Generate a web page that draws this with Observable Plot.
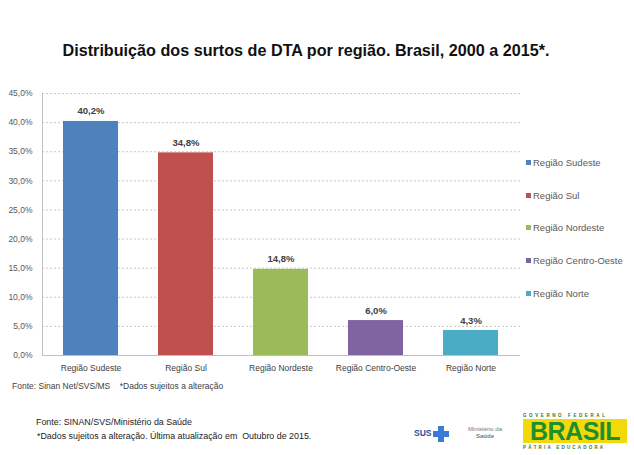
<!DOCTYPE html>
<html>
<head>
<meta charset="utf-8">
<script src="https://cdn.jsdelivr.net/npm/d3@7"></script>
<script src="https://cdn.jsdelivr.net/npm/@observablehq/plot@0.6"></script>
<style>
  html, body { margin: 0; padding: 0; background: #fff; }
  body { width: 634px; height: 455px; position: relative; overflow: hidden; font-family: "Liberation Sans", Arial, sans-serif; }
  .abs { position: absolute; white-space: nowrap; }
  #title { left: 0; width: 613px; top: 41px; text-align: center; font-family: "Liberation Sans", Arial, sans-serif; font-weight: bold; font-size: 17px; color: #111; }
  #title span { display: inline-block; transform: scaleX(0.951); }
  #chart { left: 0; top: 80px; }
  .leg { font-size: 9.5px; color: #595959; line-height: 12px; }
  .leg span.sw { display: inline-block; width: 5px; height: 5px; margin-right: 2px; vertical-align: 1px; }
  .src { font-size: 8.5px; color: #404040; }
  .foot { font-family: "Liberation Sans", Arial, sans-serif; font-size: 8.9px; color: #222; }
</style>
</head>
<body>
<div id="title" class="abs"><span>Distribuição dos surtos de DTA por região. Brasil, 2000 a 2015*.</span></div>
<div id="chart" class="abs"></div>
<div id="legend"></div>
<div class="abs src" style="left:12px; top:381px;">Fonte: Sinan Net/SVS/MS&nbsp;&nbsp;&nbsp;&nbsp;*Dados sujeitos a alteração</div>
<div class="abs foot" style="left:36px; top:417px;">Fonte: SINAN/SVS/Ministério da Saúde</div>
<div class="abs foot" style="left:37px; top:431px;">*Dados sujeitos a alteração. Última atualização em&nbsp; Outubro de 2015.</div>
<div class="abs" style="left:414px; top:428px; font-weight:bold; font-size:8.5px; color:#1f4e9c;">SUS</div>
<div class="abs" style="left:433px; top:426px; width:16px; height:16px;">
  <div style="position:absolute; left:5px; top:0; width:6px; height:16px; background:#3a7bd5;"></div>
  <div style="position:absolute; left:0; top:5px; width:16px; height:6px; background:#3a7bd5;"></div>
</div>
<div class="abs" style="left:468px; top:426px; font-size:6px; color:#777; text-align:center; line-height:7px;">Ministério da<br><b>Saúde</b></div>
<div class="abs" style="left:523px; top:413px; width:104px; font-size:4.5px; letter-spacing:2.6px; color:#2b7a2b; font-weight:bold;">GOVERNO FEDERAL</div>
<div class="abs" style="left:523px; top:419px; width:104px; height:24px; background:#f4d90a;">
  <div style="font-family:'Liberation Sans',sans-serif; font-weight:900; font-size:25px; color:#1e8f2e; line-height:24px; letter-spacing:-0.5px; text-align:center;">BRASIL</div>
</div>
<div class="abs" style="left:523px; top:445px; width:104px; font-size:4.5px; letter-spacing:2.2px; color:#2b7a2b; font-weight:bold;">PÁTRIA EDUCADORA</div>
<script>
const categories = ["Região Sudeste", "Região Sul", "Região Nordeste", "Região Centro-Oeste", "Região Norte"];
const values = [0.402, 0.348, 0.148, 0.060, 0.043];
const colors = ["#4F81BD", "#C0504D", "#9BBB59", "#8064A2", "#4BACC6"];
const yTicks = [0, 0.05, 0.10, 0.15, 0.20, 0.25, 0.30, 0.35, 0.40, 0.45];

const data = categories.map((c, i) => ({category: c, value: values[i], color: colors[i]}));
const pct = (d, digits) => (d * 100).toFixed(digits).replace(".", ",") + "%";

const chart = Plot.plot({
  width: 634,
  height: 300,
  marginTop: 13,
  marginBottom: 25,
  marginLeft: 42,
  marginRight: 114,
  style: {fontFamily: "'Liberation Sans', Arial, sans-serif", background: "transparent", color: "#404040"},
  x: {domain: categories, paddingInner: 0.42, paddingOuter: 0.21, label: null},
  y: {domain: [0, 0.45], label: null},
  marks: [
    Plot.ruleY(yTicks.slice(1), {stroke: "#c8c8c8", strokeDasharray: "2,2", strokeWidth: 1}),
    Plot.barY(data, {x: "category", y: "value", fill: "color"}),
    Plot.ruleY([0], {stroke: "#bfbfbf", strokeWidth: 1}),
    Plot.text(data, {x: "category", y: "value", text: d => pct(d.value, 1), dy: -10, fontWeight: "bold", fontSize: 9.5, fill: "#404040"}),
    Plot.axisY({ticks: yTicks, tickFormat: d => pct(d, 1), tickSize: 0, tickPadding: 10, fontSize: 8.5, fill: "#595959", label: null}),
    Plot.axisX({tickSize: 0, tickPadding: 9, fontSize: 8.5, fill: "#404040", label: null}),
    Plot.frame({anchor: "left", stroke: "#bfbfbf"})
  ]
});
document.getElementById("chart").appendChild(chart);

const legendEl = document.getElementById("legend");
categories.forEach((c, i) => {
  const div = document.createElement("div");
  div.className = "abs leg";
  div.style.left = "526px";
  div.style.top = (157 + i * 32.7) + "px";
  div.innerHTML = `<span class="sw" style="background:${colors[i]}"></span>${c}`;
  legendEl.appendChild(div);
});
</script>
</body>
</html>
